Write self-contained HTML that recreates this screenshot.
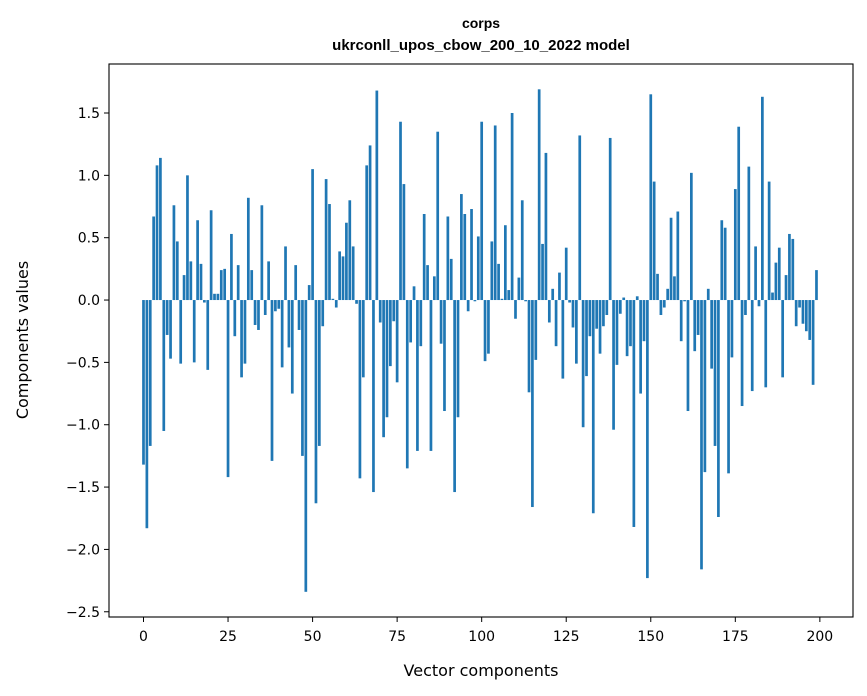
<!DOCTYPE html>
<html><head><meta charset="utf-8">
<style>
html,body{margin:0;padding:0;background:#fff;}
svg{display:block;font-family:"DejaVu Sans","Liberation Sans",sans-serif;}
</style></head>
<body>
<svg id="chart" width="867" height="696" viewBox="0 0 867 696" xmlns="http://www.w3.org/2000/svg">
<rect x="0" y="0" width="867" height="696" fill="#fff"/>
<text x="481" y="28" text-anchor="middle" font-size="14" font-weight="bold" font-family="Liberation Sans, sans-serif">corps</text>
<text x="481" y="50" text-anchor="middle" font-size="15" font-weight="bold" font-family="Liberation Sans, sans-serif">ukrconll_upos_cbow_200_10_2022 model</text>
<g id="bars"></g>
<g id="axes"></g>
<text x="481" y="676" text-anchor="middle" font-size="16">Vector components</text>
<text transform="translate(28,340) rotate(-90)" text-anchor="middle" font-size="16">Components values</text>
</svg>
<script>
const values = [
-1.32,-1.83,-1.17,0.67,1.08,1.14,-1.05,-0.28,-0.47,0.76,
0.47,-0.51,0.20,1.00,0.31,-0.50,0.64,0.29,-0.02,-0.56,
0.72,0.05,0.05,0.24,0.25,-1.42,0.53,-0.29,0.28,-0.62,
-0.51,0.82,0.24,-0.20,-0.24,0.76,-0.12,0.31,-1.29,-0.09,
-0.07,-0.54,0.43,-0.38,-0.75,0.28,-0.24,-1.25,-2.34,0.12,
1.05,-1.63,-1.17,-0.21,0.97,0.77,0.01,-0.06,0.39,0.35,
0.62,0.80,0.43,-0.03,-1.43,-0.62,1.08,1.24,-1.54,1.68,
-0.18,-1.10,-0.94,-0.53,-0.17,-0.66,1.43,0.93,-1.35,-0.34,
0.11,-1.21,-0.37,0.69,0.28,-1.21,0.19,1.35,-0.35,-0.89,
0.67,0.33,-1.54,-0.94,0.85,0.69,-0.09,0.73,-0.01,0.51,
1.43,-0.49,-0.43,0.47,1.40,0.29,0.01,0.60,0.08,1.50,
-0.15,0.18,0.80,-0.01,-0.74,-1.66,-0.48,1.69,0.45,1.18,
-0.18,0.09,-0.37,0.22,-0.63,0.42,-0.02,-0.22,-0.51,1.32,
-1.02,-0.61,-0.29,-1.71,-0.23,-0.43,-0.21,-0.12,1.30,-1.04,
-0.52,-0.11,0.02,-0.45,-0.37,-1.82,0.03,-0.75,-0.33,-2.23,
1.65,0.95,0.21,-0.12,-0.06,0.09,0.66,0.19,0.71,-0.33,
-0.01,-0.89,1.02,-0.41,-0.28,-2.16,-1.38,0.09,-0.55,-1.17,
-1.74,0.64,0.58,-1.39,-0.46,0.89,1.39,-0.85,-0.12,1.07,
-0.73,0.43,-0.05,1.63,-0.70,0.95,0.06,0.30,0.42,-0.62,
0.20,0.53,0.49,-0.21,-0.06,-0.19,-0.25,-0.32,-0.68,0.24
];
const xTickLabels = [0,25,50,75,100,125,150,175,200];
const yTickLabels = [-2.5,-2.0,-1.5,-1.0,-0.5,0.0,0.5,1.0,1.5];

const L=109,R=853,T=64,B=617;
const xMin=-10.2, xMax=209.8, yMin=-2.542, yMax=1.893;
const xs = v => L + (v - xMin) / (xMax - xMin) * (R - L);
const ys = v => B - (v - yMin) / (yMax - yMin) * (B - T);
const NS="http://www.w3.org/2000/svg";
const barsG=document.getElementById('bars');
const axesG=document.getElementById('axes');
function mk(tag,attrs){const e=document.createElementNS(NS,tag);for(const k in attrs)e.setAttribute(k,attrs[k]);return e;}

values.forEach((v,i)=>{
  const x0=xs(i-0.4), x1=xs(i+0.4);
  const y0=ys(Math.max(0,v)), y1=ys(Math.min(0,v));
  const r=mk('rect',{x:x0,y:y0,width:x1-x0,height:Math.max(y1-y0,0.5),fill:'#1f77b4'});
  
  
  barsG.appendChild(r);
});

const frame=mk('rect',{x:L,y:T,width:R-L,height:B-T,fill:'none',stroke:'#000','stroke-width':1.1});


axesG.appendChild(frame);

xTickLabels.forEach(t=>{
  const x=xs(t);
  const ln=mk('line',{x1:x,x2:x,y1:B,y2:B+5,stroke:'#000','stroke-width':1});
  
  
  axesG.appendChild(ln);
  const tx=mk('text',{x:x,y:B+24,'text-anchor':'middle','font-size':14});
  
  
  tx.textContent=String(t);
  axesG.appendChild(tx);
});
yTickLabels.forEach(t=>{
  const y=ys(t);
  const ln=mk('line',{x1:L-5,x2:L,y1:y,y2:y,stroke:'#000','stroke-width':1});
  
  
  axesG.appendChild(ln);
  const tx=mk('text',{x:L-9,y:y+5,'text-anchor':'end','font-size':14});
  
  
  tx.textContent=(t<0?'\u2212':'')+Math.abs(t).toFixed(1);
  axesG.appendChild(tx);
});
</script>
</body></html>
